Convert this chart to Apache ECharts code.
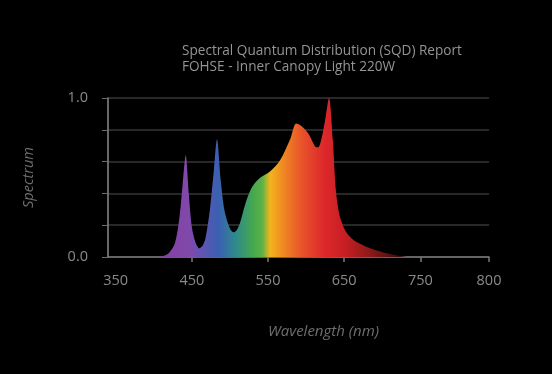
<!DOCTYPE html>
<html>
<head>
<meta charset="utf-8">
<script src="https://cdn.jsdelivr.net/npm/echarts@6/dist/echarts.min.js"></script>
<style>
  html, body { margin: 0; padding: 0; background: #000; }
  #chart { width: 552px; height: 374px; }
</style>
</head>
<body>
<div id="chart"></div>
<script>
// wavelength (nm) and relative spectrum
var wavelengths = [340, 405, 412, 420, 428, 434, 438, 442, 446, 450, 455, 460, 464,
    468, 474, 479, 483, 488, 493, 500, 505, 509, 513, 520, 526, 532, 540, 553, 566,
    579, 587, 592, 599, 605, 610, 613, 616, 620, 625, 630, 635, 639, 644, 651, 657,
    664, 674, 684, 695, 706, 720, 736, 760, 840];
var spectrum = [0, 0, 0.005, 0.025, 0.09, 0.26, 0.46, 0.64, 0.40, 0.19, 0.09, 0.055, 0.07,
    0.12, 0.31, 0.55, 0.74, 0.48, 0.29, 0.18, 0.155, 0.17, 0.21, 0.33, 0.41, 0.46, 0.50, 0.54, 0.61,
    0.74, 0.84, 0.83, 0.80, 0.76, 0.71, 0.69, 0.69, 0.74, 0.86, 1.0, 0.74, 0.42, 0.26, 0.17, 0.13,
    0.10, 0.075, 0.055, 0.038, 0.024, 0.01, 0, 0, 0];

// x axis tick labels (last one sits at the axis end)
var xTickValues = [350, 450, 550, 650, 750, 840];
var xTickLabels = ['350', '450', '550', '650', '750', '800'];
var yTickLabels = ['0.0', '1.0'];

var points = wavelengths.map(function (w, i) { return [w, spectrum[i]]; });

// colour band across the plot, violet -> red -> black
var spectrumFill = {
    type: 'linear', x: 0, y: 0, x2: 1, y2: 0,
    colorStops: [
        { offset: 0.00, color: '#6a2f8a' },
        { offset: 0.14, color: '#853fa6' },
        { offset: 0.21, color: '#8148aa' },
        { offset: 0.25, color: '#5e55b0' },
        { offset: 0.29, color: '#3a60b2' },
        { offset: 0.335, color: '#2f8a8c' },
        { offset: 0.38, color: '#45a84e' },
        { offset: 0.405, color: '#5cb246' },
        { offset: 0.425, color: '#f2b51c' },
        { offset: 0.47, color: '#ee7c24' },
        { offset: 0.51, color: '#e8522a' },
        { offset: 0.57, color: '#dc272a' },
        { offset: 0.62, color: '#c81f24' },
        { offset: 0.68, color: '#941a1a' },
        { offset: 0.77, color: '#3e0a0a' },
        { offset: 1.00, color: '#1a0505' }
    ]
};

var axisFont = 'Open Sans';

var option = {
    backgroundColor: '#000000',
    animation: false,
    title: {
        text: 'Spectral Quantum Distribution (SQD) Report\nFOHSE - Inner Canopy Light 220W',
        left: 177,
        top: 38,
        textStyle: {
            fontFamily: axisFont,
            fontSize: 13.6,
            lineHeight: 16,
            fontWeight: 'normal',
            color: '#949494'
        }
    },
    grid: { left: 108, right: 63, top: 98, bottom: 117 },
    xAxis: {
        type: 'value',
        min: 340,
        max: 840,
        name: 'Wavelength (nm)',
        nameLocation: 'middle',
        nameGap: 67,
        nameTextStyle: {
            fontFamily: axisFont, fontSize: 15, fontStyle: 'italic',
            color: '#6e6e6e', padding: [0, 0, 0, 50]
        },
        axisLine: { lineStyle: { color: '#7a7a7a', width: 1.5 } },
        axisTick: {
            length: 5,
            customValues: xTickValues.slice(1),
            lineStyle: { color: '#7a7a7a', width: 1.5 }
        },
        axisLabel: {
            customValues: xTickValues,
            margin: 16,
            fontFamily: axisFont, fontSize: 14.5, color: '#8a8a8a',
            formatter: function (v) {
                var i = xTickValues.indexOf(v);
                return i >= 0 ? xTickLabels[i] : '';
            }
        },
        splitLine: { show: false }
    },
    yAxis: {
        type: 'value',
        min: 0,
        max: 1,
        interval: 0.2,
        name: 'Spectrum',
        nameLocation: 'middle',
        nameGap: 72,
        nameTextStyle: {
            fontFamily: axisFont, fontSize: 14.5, fontStyle: 'italic', color: '#6e6e6e'
        },
        axisLine: { show: true, lineStyle: { color: '#8a8a8a', width: 1.5 } },
        axisTick: { show: true, length: 6, lineStyle: { color: '#6a6a6a', width: 1 } },
        axisLabel: {
            margin: 20,
            fontFamily: axisFont, fontSize: 14.5, color: '#8a8a8a',
            formatter: function (v) {
                if (Math.abs(v) < 1e-6) return yTickLabels[0];
                if (Math.abs(v - 1) < 1e-6) return yTickLabels[1];
                return '';
            }
        },
        splitLine: { lineStyle: { color: '#363636', width: 1.5 } }
    },
    series: [{
        type: 'line',
        data: points,
        smooth: 0.3,
        showSymbol: false,
        silent: true,
        lineStyle: { width: 0 },
        areaStyle: { color: spectrumFill, opacity: 1 }
    }]
};

var chart = echarts.init(document.getElementById('chart'));
chart.setOption(option);
</script>
</body>
</html>
